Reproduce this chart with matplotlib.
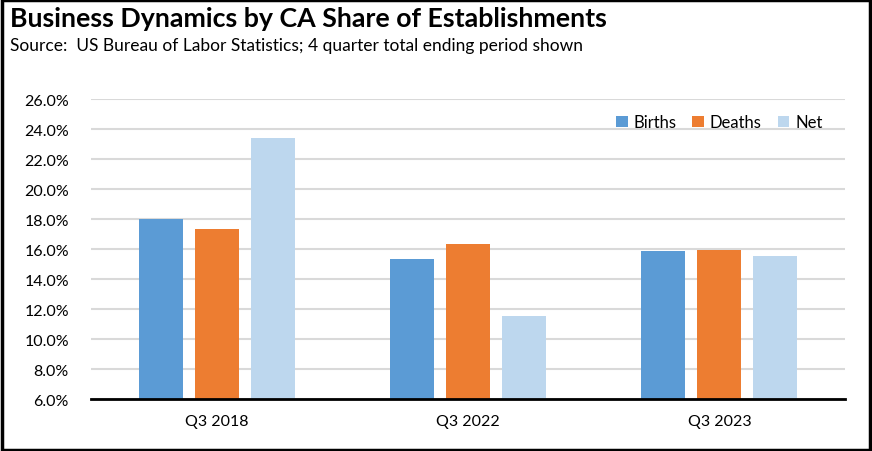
import matplotlib
matplotlib.use("Agg")
import matplotlib.pyplot as plt
import numpy as np
from matplotlib.patches import Rectangle

categories = ["Q3 2018", "Q3 2022", "Q3 2023"]
births = [18.05, 15.32, 15.91]
deaths = [17.38, 16.38, 15.98]
net = [23.45, 11.51, 15.58]
series_names = ["Births", "Deaths", "Net"]
colors = ["#5B9BD5", "#ED7D31", "#BDD7EE"]
yticks = [6, 8, 10, 12, 14, 16, 18, 20, 22, 24, 26]

plt.rcParams['font.family'] = ['Lato', 'DejaVu Sans']

fig = plt.figure(figsize=(8.72, 4.52), dpi=100)
ax = fig.add_axes([0.1044, 0.115, 0.8646, 0.6627])

x = np.arange(len(categories))
w = 0.175
step = 0.223
for i, (vals, name, c) in enumerate(zip([births, deaths, net], series_names, colors)):
    ax.bar(x + (i - 1) * step, vals, width=w, color=c, label=name, zorder=3)

ax.set_xlim(-0.5, len(categories) - 0.5)
ax.set_ylim(6, 26)
ax.set_yticks(yticks)
ax.set_yticklabels([f"{v:.1f}%" for v in yticks], fontsize=11.5)
ax.set_xticks(x)
ax.set_xticklabels(categories, fontsize=11.5)
ax.tick_params(axis='x', length=0, pad=11)
ax.tick_params(axis='y', length=0, pad=16)
ax.grid(axis='y', color='#D9D9D9', linewidth=1.5, zorder=0)
for s in ['top', 'right', 'left']:
    ax.spines[s].set_visible(False)
ax.spines['bottom'].set_color('black')
ax.spines['bottom'].set_linewidth(2)
ax.spines['bottom'].set_zorder(4)

leg = ax.legend(loc='upper right', bbox_to_anchor=(0.99, 1.0), ncol=3, frameon=False,
                fontsize=12, handlelength=0.7, handleheight=0.7, handletextpad=0.35,
                columnspacing=0.95)

fig.text(0.012, 0.957, "Business Dynamics by CA Share of Establishments", fontsize=19.3,
         fontweight='bold', va='center', ha='left')
fig.text(0.012, 0.898, "Source:  US Bureau of Labor Statistics; 4 quarter total ending period shown",
         fontsize=12.5, va='center', ha='left')

fig.patches.append(Rectangle((0.002, 0.003), 0.996, 0.994, transform=fig.transFigure,
                             fill=False, edgecolor='black', linewidth=2.5))

fig.savefig("out.png", dpi=100)
